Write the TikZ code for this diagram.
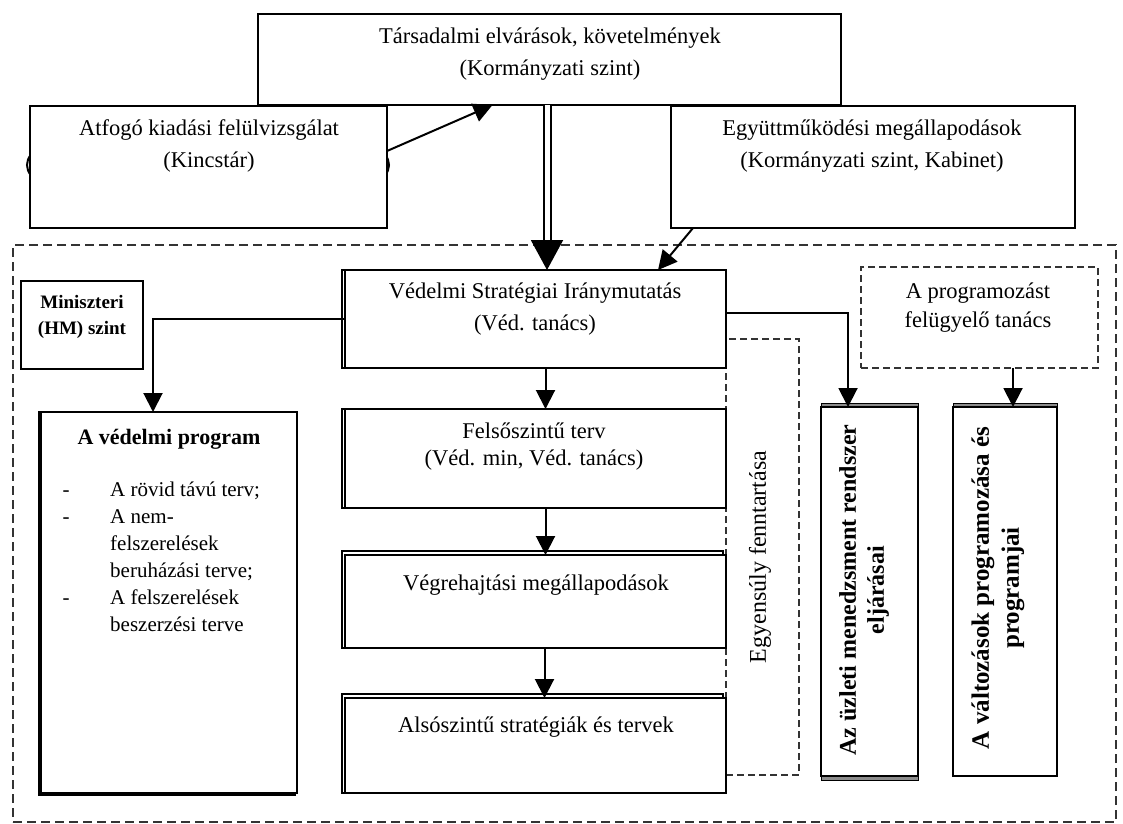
\documentclass[tikz,border=0pt]{standalone}
\usepackage{fontspec}
\setmainfont{Liberation Serif}
\usetikzlibrary{arrows.meta,fit}
\tikzset{
  box/.style={draw, line width=2pt, fill=white, inner sep=0pt, outer sep=0pt},
  dbox/.style={draw=black!80, line width=1.7pt, dash pattern=on 9pt off 5pt, inner sep=0pt, outer sep=0pt},
  sdbox/.style={draw=black!80, line width=1.4pt, dash pattern=on 7pt off 4pt, inner sep=0pt, outer sep=0pt},
  shad/.style={draw, line width=1.8pt, fill=white},
  gshad/.style={draw, line width=1pt, fill=black!45},
  txt/.style={align=center, inner sep=0pt, font=\fontsize{22.5}{32}\selectfont},
  arr/.style={line width=2pt, -{Triangle[length=19pt,width=19pt]}},
}
\begin{document}
\begin{tikzpicture}[x=1pt,y=-1pt]
\useasboundingbox (0,0) rectangle (1123,823);
% containers
\node[dbox, fit={(13,245)(1116,822)}] (outer) {};
\node[sdbox, fit={(726,339)(799,775)}] (egy) {};
\node[sdbox, fit={(861,267)(1098,368)}] (prog) {};
% top level
\node[box, fit={(258,14)(841,105)}] (top) {};
\draw[line width=2pt] (208,165) ellipse [x radius=181pt, y radius=50pt];
\node[box, fit={(30,106)(387,228)}] (atf) {};
\node[box, fit={(671,106)(1075,228)}] (egyutt) {};
% ministry level
\node[box, line width=1.6pt, fit={(21,281)(143,369)}] (min) {};
\draw[shad] (39,412) rectangle (295,795);
\node[box, fit={(41,412)(297,793)}] (vp) {};
\draw[shad] (342,270) rectangle (723,368);
\node[box, fit={(345,270)(726,368)}] (vsi) {};
\draw[shad] (342,409) rectangle (723,508);
\node[box, fit={(345,409)(726,508)}] (felso) {};
\draw[shad] (342,551) rectangle (723,648);
\node[box, fit={(345,555)(726,648)}] (vegre) {};
\draw[shad] (342,694) rectangle (723,793);
\node[box, fit={(345,698)(726,793)}] (also) {};
\draw[gshad] (821,403) rectangle (918,780);
\node[box, fit={(821,407)(918,776)}] (uz) {};
\draw[gshad] (953,403) rectangle (1057,776);
\node[box, fit={(953,407)(1057,776)}] (val) {};
% texts
\node[txt] (toptxt) at (550,54) {Társadalmi elvárások, követelmények\\(Kormányzati szint)};
\node[txt] (atftxt) at (209,146) {Atfogó kiadási felülvizsgálat\\(Kincstár)};
\node[txt] (egyutttxt) at (872,146) {Együttműködési megállapodások\\(Kormányzati szint, Kabinet)};
\node[txt] (vsitxt) at (535,309) {Védelmi Stratégiai Iránymutatás\\(Véd. tanács)};
\node[txt, font=\fontsize{22.5}{27}\selectfont] (felsotxt) at (534,446.5) {Felsőszintű terv\\(Véd. min, Véd. tanács)};
\node[txt] (vegretxt) at (536,585) {Végrehajtási megállapodások};
\node[txt] (alsotxt) at (536,727) {Alsószintű stratégiák és tervek};
\node[txt, font=\fontsize{22.5}{29}\selectfont] (progtxt) at (978,307.5) {A programozást\\felügyelő tanács};
\node[txt, font=\fontsize{19}{26}\selectfont\bfseries] (mintxt) at (82,317) {Miniszteri\\(HM) szint};
\node[txt, font=\fontsize{22}{27}\selectfont\bfseries] (vptitle) at (169,439) {A védelmi program};
\node[anchor=north west, inner sep=0pt, font=\fontsize{21}{27}\selectfont] (vplist) at (62.5,477)
  {\begin{tabular}{@{}p{47.5pt}@{}l@{}}-&A rövid távú terv;\\-&A nem-\\&felszerelések\\&beruházási terve;\\-&A felszerelések\\&beszerzési terve\end{tabular}};
\node[txt, rotate=90, font=\fontsize{24}{28}\selectfont] (egytxt) at (760,557) {Egyensúly fenntartása};
\node[txt, rotate=90, font=\fontsize{24}{28}\selectfont\bfseries] (uztxt) at (864,590) {Az üzleti menedzsment rendszer\\eljárásai};
\node[txt, rotate=90, font=\fontsize{25}{30}\selectfont\bfseries] (valtxt) at (998,588) {A változások programozása és\\programjai};
% connectors
\coordinate (dblx) at (547,0);
\coordinate (progx) at (1013,0);
\draw[arr] ([yshift=16pt]atf.east) -- ([xshift=-57pt]top.south);
\draw[line width=2pt, double, double distance=5pt, -{Triangle[length=30pt,width=32pt]}] (top.south -| dblx) -- (vsi.north -| dblx);
\draw[arr] ([xshift=22pt]egyutt.south west) -- ([xshift=-68pt]vsi.north east);
\draw[arr] (vsi.west) -| ([xshift=-16pt]vp.north);
\draw[arr] ([xshift=10pt]vsi.south) -- ([xshift=10pt]felso.north);
\draw[arr] ([xshift=10pt]felso.south) -- ([xshift=10pt]vegre.north);
\draw[arr] ([xshift=9pt]vegre.south) -- ([xshift=9pt]also.north);
\draw[arr] ([yshift=6pt]vsi.east) -| ([xshift=-21.5pt]uz.north);
\draw[arr] (prog.south -| progx) -- (val.north -| progx);
\end{tikzpicture}
\end{document}
